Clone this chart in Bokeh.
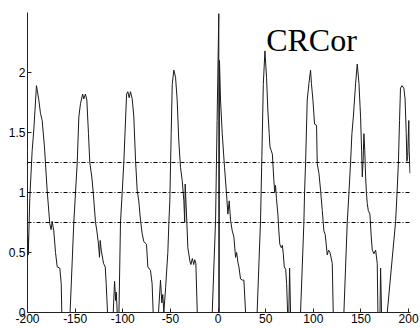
from bokeh.plotting import figure
from bokeh.models import Span, Label, FixedTicker, Range1d
from bokeh.embed import file_html
from bokeh.resources import INLINE

# ---- data ----
lag = [
    -200.0, -199.6, -199.2, -197.6, -195.1, -193.4, -190.6, -188.1, -186.4, -184.6,
    -182.2, -179.4, -176.6, -175.2, -174.1, -172.4, -170.6, -168.8, -166.1, -164.6,
    -164.0, -163.6, -155.7, -155.3,
    -151.4, -149.6, -147.8, -146.1, -144.4, -142.1, -141.0, -139.2, -137.7, -136.0,
    -134.6, -132.5, -131.0, -128.6, -127.2, -125.5, -124.4, -123.7, -122.6, -120.2,
    -118.4, -117.4, -116.0, -115.6, -110.4,
    -110.0, -108.6, -107.5, -106.8, -105.8, -105.4, -104.4,
    -104.0, -102.4, -100.6, -98.9, -96.0, -94.7, -93.3, -91.9, -90.1, -88.4,
    -86.6, -84.9, -83.2, -81.4, -79.7, -77.9, -75.1, -73.7, -70.9, -69.2,
    -68.1, -67.7, -62.9,
    -62.5, -60.4, -59.0, -58.0, -56.9, -55.0, -52.7, -51.5, -50.6, -49.2,
    -48.1, -46.4, -44.6, -42.9, -41.2, -39.4, -37.6, -35.9, -35.0, -34.5,
    -33.1, -31.7, -29.6, -28.5, -27.0, -25.5, -24.5, -23.3, -21.8, -21.4,
    -6.5,
    -6.1, -2.6, -1.0, 0.2, 0.8, 0.9, 1.1, 1.5, 2.6, 4.4,
    6.8, 8.9, 10.3, 11.7, 13.1, 14.9, 16.6, 18.4, 19.5, 20.8,
    21.9, 23.6, 25.5, 27.1, 28.9, 29.3, 40.6,
    41.0, 44.6, 46.0, 47.5, 49.2, 50.9, 52.3, 53.7, 54.5, 55.8,
    57.0, 58.6, 59.5, 60.3, 61.3, 62.8, 63.8, 64.8, 66.4, 67.5,
    68.5, 69.5, 71.0, 72.0, 73.0, 73.4, 73.9,
    74.3, 75.1, 76.1, 76.5, 86.2,
    86.6, 90.1, 90.8, 91.9, 93.6, 95.4, 97.1, 98.0, 99.6, 101.3,
    103.4, 104.1, 105.9, 107.6, 109.4, 111.1, 112.5, 114.6, 116.0, 117.5,
    119.9, 120.9, 121.3, 131.7,
    132.1, 135.6, 137.4, 139.1, 140.5, 142.0, 144.4, 146.1, 147.9, 149.6,
    150.7, 151.4, 152.3, 153.1, 154.0, 154.9, 155.7, 156.6, 157.7, 159.4,
    160.8, 161.9, 163.6, 165.4, 167.1, 167.8, 168.2, 169.6,
    170.0, 170.6, 171.6, 172.0, 177.2,
    177.6, 186.4, 187.9, 189.3, 190.5, 191.5, 193.0, 195.0, 196.3, 197.5,
    198.2, 199.0, 200.2, 200.6, 201.5,
]
crcor = [
    0.45, 0.63, 0.48, 0.95, 1.35, 1.52, 1.89, 1.77, 1.66, 1.60,
    1.38, 1.02, 0.74, 0.69, 0.76, 0.68, 0.50, 0.38, 0.37, 0.24,
    0.00, -0.30, -0.30, 0.00,
    0.75, 1.00, 1.25, 1.63, 1.74, 1.82, 1.78, 1.82, 1.77, 1.49,
    1.25, 1.13, 1.00, 0.75, 0.68, 0.57, 0.46, 0.60, 0.52, 0.41,
    0.38, 0.24, 0.00, -0.30, -0.30,
    0.00, 0.26, 0.10, 0.17, 0.00, -0.30, -0.30,
    0.00, 0.75, 1.00, 1.25, 1.82, 1.84, 1.79, 1.84, 1.78, 1.63,
    1.27, 1.02, 0.93, 0.77, 0.66, 0.59, 0.57, 0.38, 0.35, 0.24,
    0.00, -0.30, -0.30,
    0.00, 0.27, 0.08, 0.15, 0.00, 0.21, 0.50, 0.77, 0.93, 1.49,
    1.90, 2.02, 1.96, 1.77, 1.43, 1.21, 1.10, 0.93, 0.75, 1.07,
    0.82, 0.54, 0.43, 0.40, 0.45, 0.40, 0.44, 0.41, 0.00, -0.30,
    -0.30,
    0.00, 0.77, 1.60, 2.20, 2.49, -0.30, -0.30, 2.10, 1.77, 1.49,
    1.21, 0.99, 0.82, 0.93, 0.77, 0.68, 0.63, 0.46, 0.50, 0.42,
    0.38, 0.28, 0.27, 0.27, 0.00, -0.30, -0.30,
    0.00, 0.77, 1.30, 1.90, 2.18, 1.96, 1.68, 1.49, 1.38, 1.35,
    1.32, 1.10, 1.00, 1.06, 0.95, 0.82, 0.68, 0.57, 0.54, 0.56,
    0.49, 0.38, 0.36, 0.24, 0.00, -0.30, -0.30,
    0.00, 0.37, 0.00, -0.30, -0.30,
    0.00, 0.75, 1.00, 1.25, 1.77, 1.91, 2.02, 1.91, 1.77, 1.57,
    1.56, 1.24, 1.16, 1.02, 0.85, 0.68, 0.65, 0.48, 0.52, 0.50,
    0.41, 0.00, -0.30, -0.30,
    0.00, 0.75, 1.00, 1.25, 1.49, 1.63, 1.91, 2.07, 1.91, 1.63,
    1.35, 1.13, 1.27, 1.49, 1.35, 1.13, 1.00, 0.91, 0.85, 0.82,
    0.63, 0.52, 0.49, 0.52, 0.41, 0.00, -0.30, -0.30,
    0.00, 0.37, 0.00, -0.30, -0.30,
    0.00, 0.76, 1.00, 1.25, 1.60, 1.87, 1.89, 1.87, 1.78, 1.50,
    1.26, 1.30, 1.60, 1.35, 1.16,
]
threshold_levels = [0.75, 1.0, 1.25]
x_ticks = [-200, -150, -100, -50, 0, 50, 100, 150, 200]
x_tick_labels = ["-200", "-150", "-100", "-50", "0", "50", "100", "150", "200"]
y_ticks = [0, 0.5, 1, 1.5, 2]
y_tick_labels = ["0", "0.5", "1", "1.5", "2"]
title_text = "CRCor"

p = figure(width=420, height=328, output_backend="svg", toolbar_location=None,
           x_range=Range1d(-200, 202), y_range=Range1d(0, 2.5),
           min_border_left=27, min_border_right=10, min_border_top=12, min_border_bottom=16)
p.outline_line_color = None
p.xgrid.visible = False
p.ygrid.visible = False
p.background_fill_color = "white"
p.border_fill_color = "white"

for ax, ticks, labels in ((p.xaxis[0], x_ticks, x_tick_labels), (p.yaxis[0], y_ticks, y_tick_labels)):
    ax.ticker = FixedTicker(ticks=ticks)
    ax.major_label_overrides = {t: l for t, l in zip(ticks, labels)}
    ax.major_tick_in = 4
    ax.major_tick_out = 0
    ax.minor_tick_in = 0
    ax.minor_tick_out = 0
    ax.axis_line_color = "#222222"
    ax.major_tick_line_color = "#222222"
    ax.major_label_text_font = "Liberation Sans"
    ax.major_label_text_font_size = "12px"
    ax.major_label_text_color = "black"
p.xaxis[0].major_label_standoff = 1
p.yaxis[0].major_label_standoff = 2

for lv in threshold_levels:
    p.add_layout(Span(location=lv, dimension="width", line_color="black",
                      line_width=1, line_dash="4 2 1 2"))

p.line(lag, crcor, line_color="#1a1a1a", line_width=1)

p.add_layout(Label(x=50.5, y=2.27, text=title_text, text_font="Liberation Serif",
                   text_font_size="32px", text_color="black",
                   text_baseline="alphabetic", text_align="left"))

open("out.html", "w").write(file_html(p, INLINE))
